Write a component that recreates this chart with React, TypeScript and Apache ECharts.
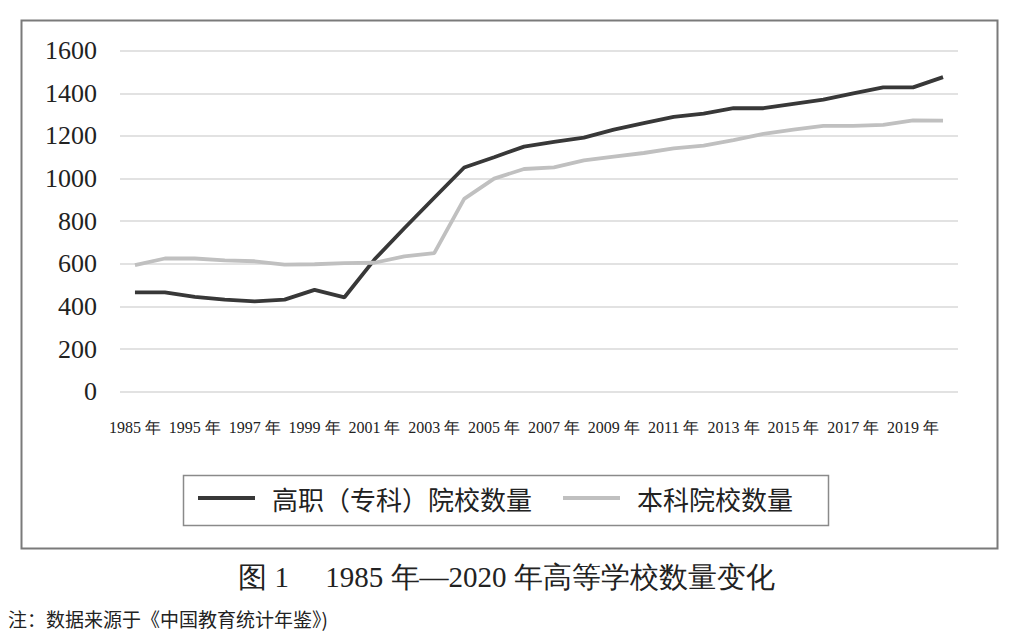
import React, { useEffect, useRef } from "react";
import * as echarts from "echarts";

const categories = [
  "1985年", "1990年", "1995年", "1996年", "1997年", "1998年", "1999年",
  "2000年", "2001年", "2002年", "2003年", "2004年", "2005年", "2006年",
  "2007年", "2008年", "2009年", "2010年", "2011年", "2012年", "2013年",
  "2014年", "2015年", "2016年", "2017年", "2018年", "2019年", "2020年",
];

const vocationalCount = [
  466, 466, 445, 432, 424, 432, 478, 443, 620, 767, 910, 1052, 1100, 1150,
  1172, 1192, 1230, 1260, 1290, 1305, 1330, 1330, 1350, 1370, 1400, 1428,
  1428, 1476,
];

const undergraduateCount = [
  594, 625, 625, 616, 612, 596, 598, 603, 605, 635, 650, 905, 1000, 1045,
  1053, 1085, 1103, 1120, 1142, 1155, 1180, 1210, 1230, 1247, 1247, 1252,
  1273, 1272,
];

const seriesNames = ["高职（专科）院校数量", "本科院校数量"];
const yTicks = { min: 0, max: 1600, interval: 200 };

const serif = "Liberation Serif, Times New Roman, serif";

export default function App() {
  const ref = useRef<HTMLDivElement>(null);

  useEffect(() => {
    if (!ref.current) return;
    const chart = echarts.init(ref.current, null, { renderer: "svg" });
    chart.setOption({
      animation: false,
      backgroundColor: "#ffffff",
      textStyle: { fontFamily: serif },
      grid: { left: 120, right: 55, top: 50.7, bottom: 250.3, containLabel: false },
      xAxis: {
        type: "category",
        data: categories,
        boundaryGap: true,
        axisLine: { show: false },
        axisTick: { show: false },
        axisLabel: {
          interval: 1,
          margin: 28,
          fontSize: 16,
          color: "#222",
          fontFamily: serif,
          formatter: (v: string) => v.replace("年", " 年"),
        },
      },
      yAxis: {
        type: "value",
        min: yTicks.min,
        max: yTicks.max,
        interval: yTicks.interval,
        axisLine: { show: false },
        axisTick: { show: false },
        axisLabel: {
          margin: 23,
          fontSize: 26,
          color: "#222",
          fontFamily: serif,
          formatter: (v: number) => String(v),
        },
        splitLine: { lineStyle: { color: "#d9d9d9", width: 1.5 } },
      },
      legend: {
        left: 193,
        top: 480,
        itemWidth: 57,
        itemHeight: 4,
        itemGap: 31,
        icon: "rect",
        textStyle: {
          fontSize: 26,
          color: "#222",
          fontFamily: "Noto Sans CJK SC",
          padding: [0, 0, 0, 12],
        },
        data: seriesNames,
      },
      graphic: [
        {
          type: "rect",
          left: 19,
          top: 18,
          shape: { width: 976, height: 528 },
          style: { fill: "none", stroke: "#7a7a7a", lineWidth: 2 },
          silent: true,
        },
        {
          type: "rect",
          left: 181,
          top: 473,
          shape: { width: 645, height: 50 },
          style: { fill: "none", stroke: "#8a8a8a", lineWidth: 1.5 },
          silent: true,
        },
        {
          type: "text",
          left: "center",
          top: 562,
          style: {
            text: "图 1　 1985 年—2020 年高等学校数量变化",
            fontSize: 29,
            fill: "#222",
            fontFamily: serif,
          },
        },
        {
          type: "text",
          left: 8,
          top: 609,
          style: {
            text: "注：数据来源于《中国教育统计年鉴》)",
            fontSize: 19,
            fill: "#222",
            fontFamily: "Noto Sans CJK SC",
          },
        },
      ],
      series: [
        {
          name: seriesNames[0],
          type: "line",
          data: vocationalCount,
          symbol: "none",
          showSymbol: false,
          lineStyle: { color: "#383838", width: 3.8 },
          itemStyle: { color: "#383838" },
        },
        {
          name: seriesNames[1],
          type: "line",
          data: undergraduateCount,
          symbol: "none",
          showSymbol: false,
          lineStyle: { color: "#c0c0c0", width: 3.8 },
          itemStyle: { color: "#c0c0c0" },
        },
      ],
    });
    return () => chart.dispose();
  }, []);

  return (
    <div
      ref={ref}
      style={{ position: "absolute", left: 0, top: 0, width: 1013, height: 642 }}
    />
  );
}
